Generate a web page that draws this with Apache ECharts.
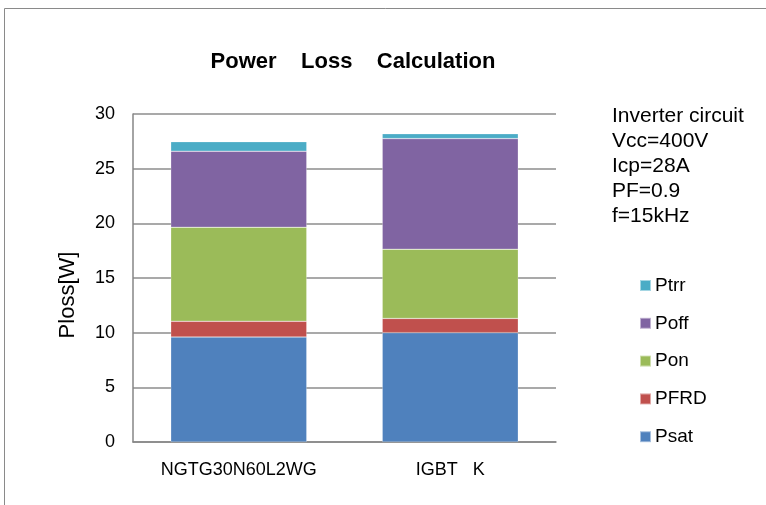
<!DOCTYPE html>
<html>
<head>
<meta charset="utf-8">
<script src="https://cdn.jsdelivr.net/npm/echarts@6/dist/echarts.min.js"></script>
<style>
  html, body { margin: 0; padding: 0; background: #fff; }
  #main { width: 766px; height: 505px; }
</style>
</head>
<body>
<div id="main"></div>
<script>
// devices on the x axis
var categories = ['NGTG30N60L2WG', 'IGBT   K'];
// loss parts, W
var psat = [9.6, 10.0];
var pfrd = [1.44, 1.3];
var pon = [8.6, 6.33];
var poff = [6.96, 10.12];
var ptrr = [0.87, 0.45];
var yTicks = [0, 5, 10, 15, 20, 25, 30];
var infoLines = ['Inverter circuit', 'Vcc=400V', 'Icp=28A', 'PF=0.9', 'f=15kHz'];

var font = '"Liberation Sans", Arial, sans-serif';
var myChart = echarts.init(document.getElementById('main'));

function part(name, data, color) {
  return {
    name: name,
    type: 'bar',
    stack: 'loss',
    data: data,
    barWidth: 136,
    itemStyle: { color: color, borderColor: 'rgba(255,255,255,0.5)', borderWidth: 0.5 }
  };
}

var option = {
  animation: false,
  textStyle: { fontFamily: font },
  grid: { left: 133, right: 210, top: 114, bottom: 63 },
  legend: {
    orient: 'vertical',
    left: 634,
    top: 271,
    itemWidth: 11,
    itemHeight: 11,
    itemGap: 18.8,
    icon: 'rect',
    data: ['Ptrr', 'Poff', 'Pon', 'PFRD', 'Psat'],
    textStyle: { fontFamily: font, fontSize: 19, color: '#000', lineHeight: 19, padding: [0, 0, 0, -1] }
  },
  xAxis: {
    type: 'category',
    data: categories,
    axisLine: { lineStyle: { color: '#868686', width: 1.5 } },
    axisTick: { show: false },
    axisLabel: { fontFamily: font, fontSize: 18, color: '#000', margin: 19 }
  },
  yAxis: {
    type: 'value',
    min: yTicks[0],
    max: yTicks[yTicks.length - 1],
    interval: 5,
    axisLine: { show: true, lineStyle: { color: '#868686', width: 1.5 } },
    axisTick: { show: false },
    splitLine: { lineStyle: { color: '#8c8c8c', width: 1.5 } },
    axisLabel: { fontFamily: font, fontSize: 18, color: '#000', margin: 18, padding: [4, 0, 0, 0] }
  },
  graphic: [
    {
      type: 'rect',
      shape: { x: 4.5, y: 8.5, width: 900, height: 700 },
      style: { fill: 'none', stroke: '#8a8a8a', lineWidth: 1 },
      silent: true
    },
    {
      type: 'text',
      x: 353, y: 62,
      style: {
        text: 'Power    Loss    Calculation',
        font: 'bold 22px ' + font,
        fill: '#000',
        textAlign: 'center',
        textVerticalAlign: 'middle'
      }
    },
    {
      type: 'text',
      x: 612, y: 104,
      style: {
        text: infoLines.join('\n'),
        font: '21px ' + font,
        lineHeight: 25,
        fill: '#000'
      }
    },
    {
      type: 'text',
      x: 68, y: 295,
      rotation: Math.PI / 2,
      style: {
        text: 'Ploss[W]',
        font: '22px ' + font,
        fill: '#000',
        textAlign: 'center',
        textVerticalAlign: 'middle'
      }
    }
  ],
  series: [
    part('Psat', psat, '#4F81BD'),
    part('PFRD', pfrd, '#C0504D'),
    part('Pon', pon, '#9BBB59'),
    part('Poff', poff, '#8064A2'),
    part('Ptrr', ptrr, '#4BACC6')
  ]
};

myChart.setOption(option);
</script>
</body>
</html>
